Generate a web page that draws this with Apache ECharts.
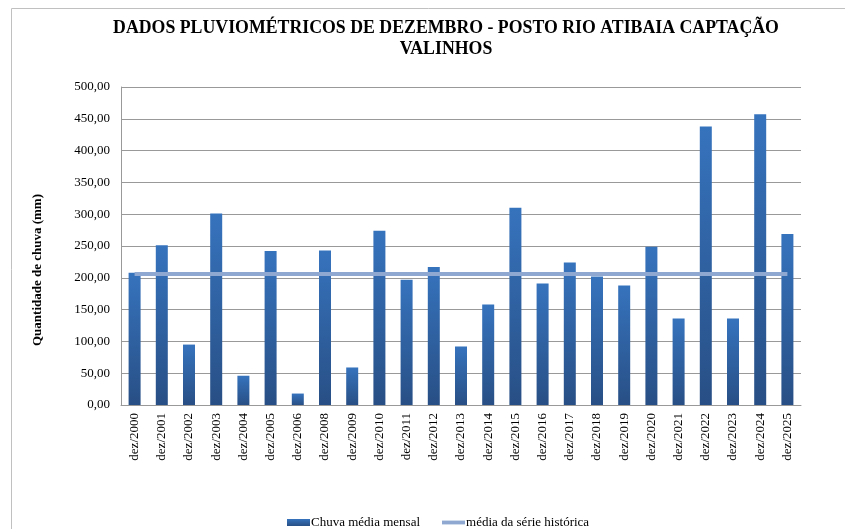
<!DOCTYPE html>
<html>
<head>
<meta charset="utf-8">
<script src="https://cdn.jsdelivr.net/npm/echarts@6/dist/echarts.min.js"></script>
<style>
  html, body { margin: 0; padding: 0; background: #fff; }
  #chart { width: 845px; height: 529px; }
</style>
</head>
<body>
<div id="chart"></div>
<script>
// dados
const anos = ['dez/2000', 'dez/2001', 'dez/2002', 'dez/2003', 'dez/2004', 'dez/2005', 'dez/2006',
  'dez/2008', 'dez/2009', 'dez/2010', 'dez/2011', 'dez/2012', 'dez/2013', 'dez/2014', 'dez/2015',
  'dez/2016', 'dez/2017', 'dez/2018', 'dez/2019', 'dez/2020', 'dez/2021', 'dez/2022', 'dez/2023',
  'dez/2024', 'dez/2025']
const chuvaMensal = [208, 251, 95, 301, 46, 242, 18, 243, 59, 274, 197, 217, 92, 158, 310,
  191, 224, 202, 188, 249, 136, 438, 136, 457, 269]
const mediaHistorica = [206, 206, 206, 206, 206, 206, 206, 206, 206, 206, 206, 206, 206, 206, 206,
  206, 206, 206, 206, 206, 206, 206, 206, 206, 206]

let myChart = echarts.init(document.getElementById('chart'))

let options = {
  animation: false,
  title: {
    text: 'DADOS PLUVIOMÉTRICOS DE DEZEMBRO - POSTO RIO ATIBAIA CAPTAÇÃO\nVALINHOS',
    left: 441,
    textAlign: 'center',
    top: 13,
    textStyle: {
      fontFamily: 'Liberation Serif',
      fontWeight: 'bold',
      fontSize: 17.8,
      lineHeight: 21,
      color: '#000',
    },
  },
  // moldura do gráfico
  graphic: [
    {
      type: 'rect',
      shape: { x: 11.5, y: 8.5, width: 900, height: 600 },
      style: { fill: 'none', stroke: '#c0c0c0', lineWidth: 1 },
      silent: true,
    },
  ],
  legend: {
    top: 511,
    left: 282,
    itemWidth: 23,
    itemGap: 22,
    itemHeight: 7,
    textStyle: {
      fontFamily: 'Liberation Serif',
      fontSize: 13,
      color: '#000',
      padding: [0, 0, 0, -4],
    },
    data: [
      { name: 'Chuva média mensal', icon: 'rect' },
      { name: 'média da série histórica', icon: 'path://M0 0 H24 V4 H0 Z' },
    ],
  },
  grid: {
    left: 121,
    right: 44,
    top: 87,
    bottom: 124,
  },
  xAxis: {
    type: 'category',
    data: anos,
    axisLine: { lineStyle: { color: '#999', width: 1 } },
    axisTick: { show: false },
    axisLabel: {
      rotate: 90,
      interval: 0,
      margin: 8,
      fontFamily: 'Liberation Serif',
      fontSize: 13,
      color: '#000',
    },
  },
  yAxis: {
    type: 'value',
    min: 0,
    max: 500,
    interval: 50,
    name: 'Quantidade de chuva (mm)',
    nameLocation: 'middle',
    nameGap: 77,
    nameTextStyle: {
      fontFamily: 'Liberation Serif',
      fontWeight: 'bold',
      fontSize: 13,
      color: '#000',
      padding: [0, 48, 0, 0],
    },
    axisLine: { show: true, lineStyle: { color: '#999' } },
    axisTick: { show: false },
    splitLine: { lineStyle: { color: '#999', width: 1 } },
    axisLabel: {
      margin: 11,
      fontFamily: 'Liberation Serif',
      fontSize: 13,
      color: '#000',
      formatter: (v) => v.toFixed(2).replace('.', ','),
    },
  },
  series: [
    {
      name: 'Chuva média mensal',
      type: 'bar',
      data: chuvaMensal,
      barWidth: 12,
      itemStyle: {
        color: new echarts.graphic.LinearGradient(0, 0, 0, 1, [
          { offset: 0, color: '#3673bd' },
          { offset: 1, color: '#284f85' },
        ]),
      },
    },
    {
      name: 'média da série histórica',
      type: 'line',
      data: mediaHistorica,
      symbol: 'none',
      lineStyle: { color: '#8ea8d2', width: 4 },
      itemStyle: { color: '#8ea8d2' },
    },
  ],
}

myChart.setOption(options)
</script>
</body>
</html>
